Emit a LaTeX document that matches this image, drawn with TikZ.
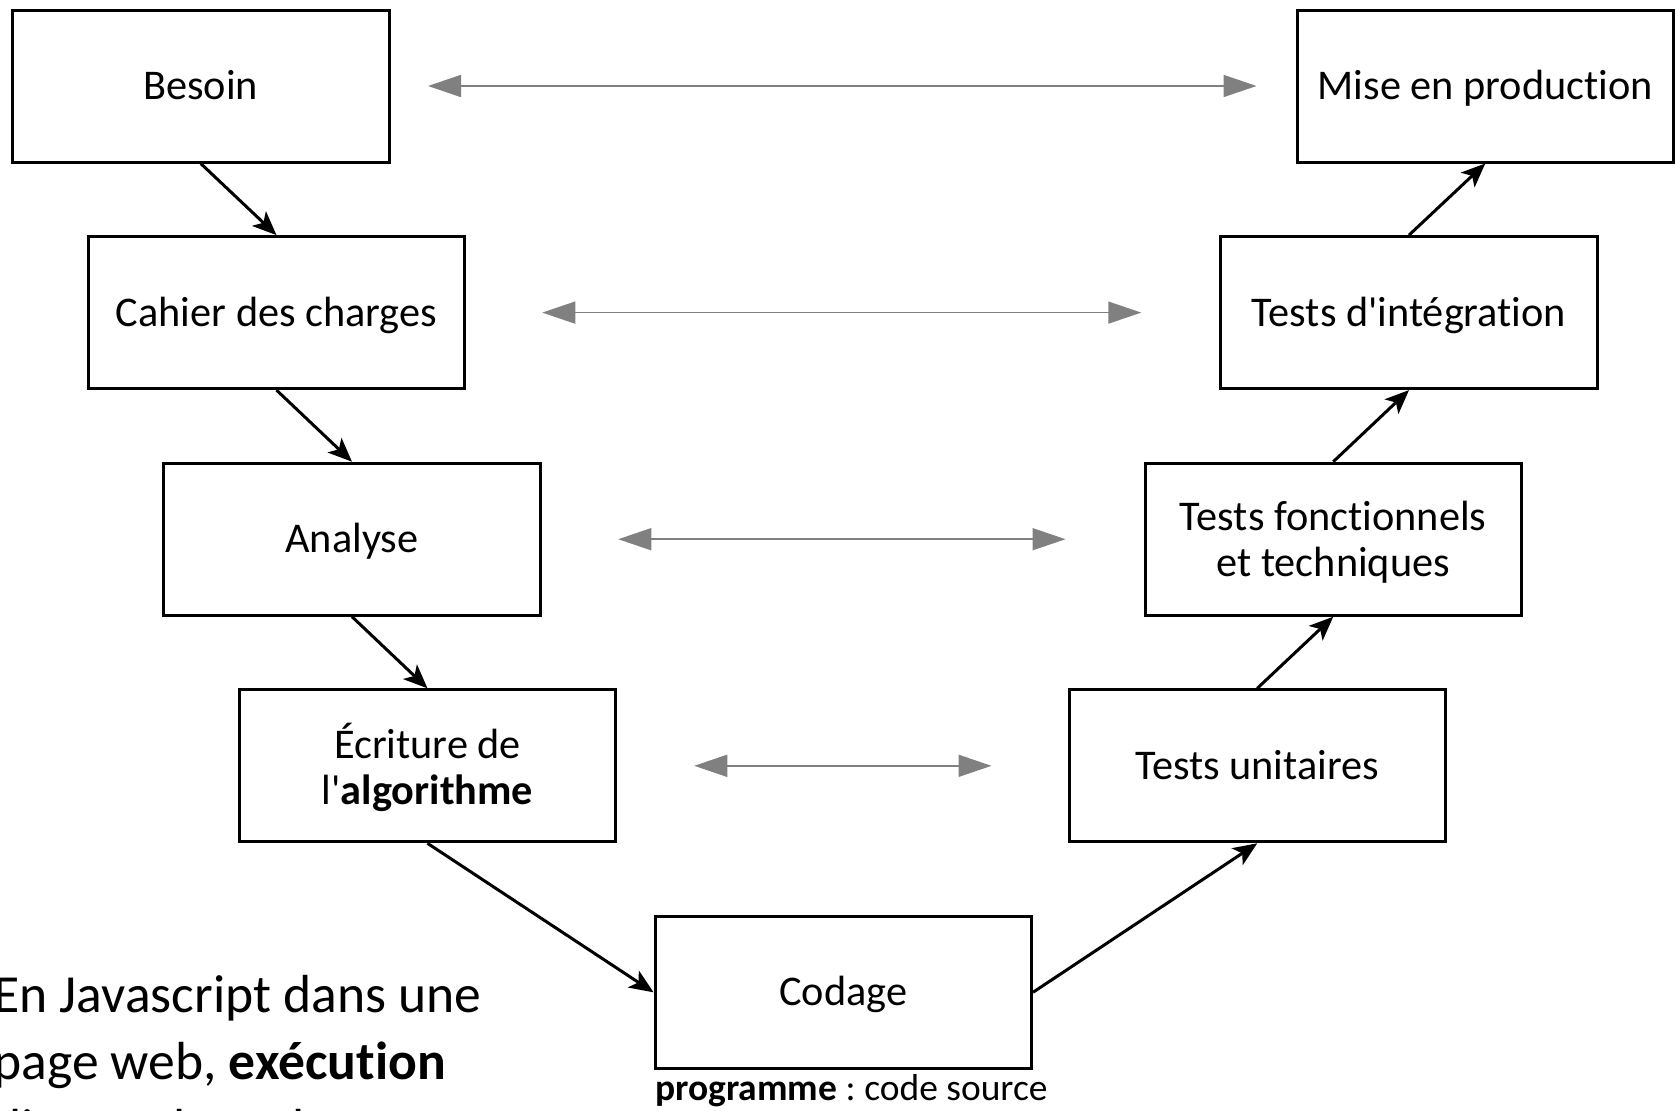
\documentclass[tikz,border=0pt]{standalone}
\usepackage{fontspec}
\setmainfont{Carlito}[Ligatures={TeXOff,NoCommon}]
\usetikzlibrary{arrows.meta}
\definecolor{linkgray}{RGB}{128,128,128}
\frenchspacing

\begin{document}
\begin{tikzpicture}[x=0.5pt,y=-0.5pt,
  stage/.style={draw=black, line width=1.5pt, minimum width=188.25pt,
    minimum height=76pt, inner sep=0pt, align=center,
    font=\fontsize{21.15pt}{23pt}\selectfont},
  oneline/.style={text height=15pt, text depth=1.6pt},
  flow/.style={line width=1.5pt, -{Stealth[length=12pt,width=10pt,inset=3pt]}},
  link/.style={draw=linkgray, line width=0.8pt,
    {Triangle[length=16.5pt,width=11pt,fill=linkgray]}-{Triangle[length=16.5pt,width=11pt,fill=linkgray]}},
  note/.style={anchor=base west, inner sep=0pt}]

\useasboundingbox (0,0) rectangle (1676,1110);

% left branch of the V
\node[stage, oneline] (besoin)  at (200.75,86)   {Besoin};
\node[stage, oneline] (cahier)  at (276.5,312.6) {Cahier des charges};
\node[stage, oneline] (analyse) at (352,539.2)   {Analyse};
\node[stage] (ecriture) at (427.5,765.8)
  {\rule{0pt}{19.5pt}Écriture de\\l'\textbf{algorithme}};
% bottom of the V
\node[stage, oneline] (codage)  at (843.25,992.3) {Codage};
% right branch of the V
\node[stage, oneline] (unit)    at (1257.25,765.8) {Tests unitaires};
\node[stage] (fonct) at (1333.25,539.2)
  {\rule{0pt}{18pt}Tests fonctionnels\\et techniques};
\node[stage, oneline] (integ)   at (1409,312.6)    {Tests d'intégration};
\node[stage, oneline] (prod)    at (1485.25,86)    {Mise en production};

% descending and ascending flow
\draw[flow] (besoin.south) -- (cahier.north);
\draw[flow] (cahier.south) -- (analyse.north);
\draw[flow] (analyse.south) -- (ecriture.north);
\draw[flow] (ecriture.south) -- (codage.west);
\draw[flow] (codage.east) -- (unit.south);
\draw[flow] (unit.north) -- (fonct.south);
\draw[flow] (fonct.north) -- (integ.south);
\draw[flow] (integ.north) -- (prod.south);

% correspondence between design and validation stages
\draw[link] ([xshift=18.75pt]besoin.east) -- ([xshift=-19.5pt]prod.west);
\draw[link] ([xshift=38pt]cahier.east) -- ([xshift=-39pt]integ.west);
\draw[link] ([xshift=38.25pt]analyse.east) -- ([xshift=-39pt]fonct.west);
\draw[link] ([xshift=38.5pt]ecriture.east) -- ([xshift=-38pt]unit.west);

% annotations
\node[note, font=\fontsize{18.75pt}{22pt}\selectfont] (prog) at (655,1100)
  {\textbf{programme} : code source};
\node[note, font=\fontsize{26.8pt}{32pt}\selectfont] (js1) at (-7,1012)
  {En Javascript dans une};
\node[note, font=\fontsize{26.8pt}{32pt}\selectfont] (js2) at (-7,1079)
  {page web, \textbf{exécution}};
\node[note, font=\fontsize{26.8pt}{32pt}\selectfont] (js3) at (-7,1146)
  {directe du code};
\end{tikzpicture}
\end{document}
